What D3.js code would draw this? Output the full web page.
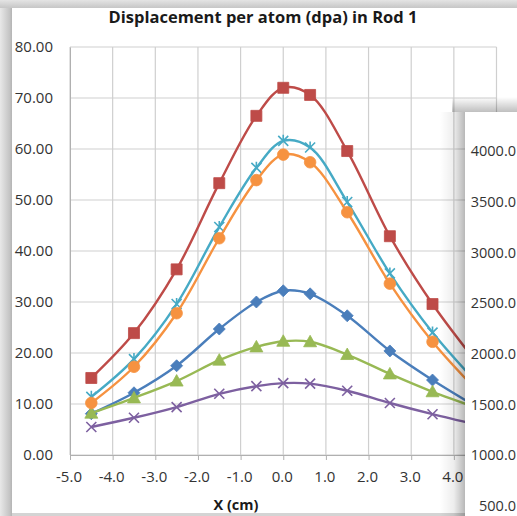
<!DOCTYPE html>
<html><head><meta charset="utf-8">
<script src="https://cdn.jsdelivr.net/npm/d3@7"></script>
<style>html,body{margin:0;padding:0;background:#fff;}svg{display:block;}</style>
</head><body>
<script>
// ---- data ----
const title = "Displacement per atom (dpa) in Rod 1";
const xTitle = "X (cm)";
const xPositions = [-4.5, -3.5, -2.5, -1.5, -0.63, 0, 0.63, 1.5, 2.5, 3.5, 4.5];
const seriesBlue   = [8.1, 12.2, 17.5, 24.7, 30.0, 32.2, 31.6, 27.3, 20.4, 14.7, 9.6];
const seriesRed    = [15.1, 23.9, 36.4, 53.3, 66.5, 72.0, 70.6, 59.6, 42.9, 29.6, 18.5];
const seriesGreen  = [8.2, 11.2, 14.5, 18.6, 21.2, 22.3, 22.2, 19.7, 15.9, 12.4, 9.4];
const seriesPurple = [5.5, 7.3, 9.4, 12.0, 13.5, 14.1, 14.0, 12.6, 10.2, 8.0, 6.0];
const seriesCyan   = [11.4, 18.8, 29.6, 44.7, 56.3, 61.6, 60.3, 49.6, 35.6, 24.0, 14.5];
const seriesOrange = [10.2, 17.3, 27.8, 42.5, 53.9, 58.9, 57.4, 47.6, 33.6, 22.2, 13.0];
const xTicks = [-5, -4, -3, -2, -1, 0, 1, 2, 3, 4, 5];
const yTicks = [0, 10, 20, 30, 40, 50, 60, 70, 80];
const overlayTicks = [500, 1000, 1500, 2000, 2500, 3000, 3500, 4000];

const series = [
  {values: seriesBlue,   color: "#4A7EBB", marker: "diamond"},
  {values: seriesRed,    color: "#BE4B48", marker: "square"},
  {values: seriesGreen,  color: "#98B954", marker: "triangle"},
  {values: seriesPurple, color: "#7D60A0", marker: "x"},
  {values: seriesCyan,   color: "#46AAC5", marker: "star"},
  {values: seriesOrange, color: "#F69240", marker: "circle"}
];

const W = 517, H = 516;
const FONT = "'Open Sans', 'Liberation Sans', sans-serif";
const svg = d3.select("body").append("svg").attr("width", W).attr("height", H);
const defs = svg.append("defs");
function grad(id, x1, y1, x2, y2, stops) {
  const g = defs.append("linearGradient").attr("id", id)
    .attr("x1", x1).attr("y1", y1).attr("x2", x2).attr("y2", y2);
  stops.forEach(s => g.append("stop").attr("offset", s[0]).attr("stop-color", s[1]).attr("stop-opacity", s[2]));
}
grad("gLeft", 0, 0, 1, 0, [[0, "#e8e8e8", 1], [0.8, "#c4c4c4", 1], [1, "#b4b4b4", 1]]);
grad("gTop", 0, 0, 0, 1, [[0, "#e4e4e4", 1], [1, "#c6c6c6", 1]]);
grad("gShadowL", 0, 0, 1, 0, [[0, "#000", 0], [0.55, "#000", 0.07], [1, "#000", 0.28]]);
grad("gShadowT", 0, 0, 0, 1, [[0, "#000", 0], [1, "#000", 0.25]]);

// frame background
svg.append("rect").attr("width", W).attr("height", H).attr("fill", "#d4d4d4");
svg.append("rect").attr("x", 0).attr("y", 0).attr("width", 12).attr("height", H).attr("fill", "url(#gLeft)");
svg.append("rect").attr("x", 0).attr("y", 0).attr("width", W).attr("height", 8).attr("fill", "url(#gTop)");
svg.append("rect").attr("x", 12).attr("y", 8).attr("width", W - 12).attr("height", 505).attr("fill", "#fff");

const x = d3.scaleLinear().domain([-5, 5]).range([70, 496.5]);
const y = d3.scaleLinear().domain([0, 80]).range([455, 47]);

// gridlines
const grid = svg.append("g");
grid.selectAll("line.h").data(yTicks).join("line")
  .attr("x1", x(-5)).attr("x2", x(5)).attr("y1", d => y(d)).attr("y2", d => y(d))
  .attr("stroke", "#cfcfcf").attr("stroke-width", 1.2);
grid.selectAll("line.v").data(xTicks).join("line")
  .attr("x1", d => x(d)).attr("x2", d => x(d)).attr("y1", y(80)).attr("y2", y(0))
  .attr("stroke", "#cfcfcf").attr("stroke-width", 1.2);

// axes
const xAxis = svg.append("g").attr("transform", `translate(0,${y(0)})`)
  .call(d3.axisBottom(x).tickValues(xTicks).tickFormat(d => d.toFixed(1)).tickSize(5).tickPadding(11));
xAxis.select(".domain").attr("stroke", "#b0b0b0");
xAxis.selectAll(".tick line").attr("stroke", "#b0b0b0");
xAxis.selectAll("text").attr("font-family", FONT).attr("font-size", 15).attr("fill", "#333");
xAxis.selectAll(".tick text").attr("dx", -1.5);

const yAxis = svg.append("g").attr("transform", `translate(${x(-5)},0)`)
  .call(d3.axisLeft(y).tickValues(yTicks).tickFormat(d => d.toFixed(2)).tickSize(0).tickPadding(17));
yAxis.select(".domain").attr("stroke", "#b0b0b0");
yAxis.selectAll("text").attr("font-family", FONT).attr("font-size", 15).attr("fill", "#333");

// title
svg.append("text").attr("x", 263).attr("y", 23).attr("text-anchor", "middle")
  .attr("font-family", FONT).attr("font-weight", "bold").attr("font-size", 16.5).attr("fill", "#1a1a1a")
  .text(title);
svg.append("text").attr("x", 236).attr("y", 510).attr("text-anchor", "middle")
  .attr("font-family", FONT).attr("font-weight", "bold").attr("font-size", 14.5).attr("fill", "#1a1a1a")
  .text(xTitle);

// series
const line = d3.line().curve(d3.curveCatmullRom.alpha(0.5))
  .x(d => x(d[0])).y(d => y(d[1]));

function markerPath(type) {
  const p = d3.path();
  if (type === "square") { p.rect(-5.5, -5.5, 11, 11); }
  else if (type === "diamond") { p.moveTo(0, -6); p.lineTo(6, 0); p.lineTo(0, 6); p.lineTo(-6, 0); p.closePath(); }
  else if (type === "triangle") { p.moveTo(0, -6.5); p.lineTo(6.5, 5); p.lineTo(-6.5, 5); p.closePath(); }
  else if (type === "circle") { p.arc(0, 0, 5.8, 0, 2 * Math.PI); }
  else if (type === "x") { p.moveTo(-5, -5); p.lineTo(5, 5); p.moveTo(5, -5); p.lineTo(-5, 5); }
  else if (type === "star") { p.moveTo(-5, -5); p.lineTo(5, 5); p.moveTo(5, -5); p.lineTo(-5, 5); p.moveTo(0, -6); p.lineTo(0, 0); }
  return p.toString();
}

series.forEach(s => {
  const pts = xPositions.map((xv, i) => [xv, s.values[i]]);
  const g = svg.append("g");
  g.append("path").attr("d", line(pts)).attr("fill", "none")
    .attr("stroke", s.color).attr("stroke-width", 2.4).attr("stroke-linejoin", "round");
  const stroked = (s.marker === "x" || s.marker === "star");
  g.selectAll("path.m").data(pts).join("path")
    .attr("transform", d => `translate(${x(d[0])},${y(d[1])})`)
    .attr("d", markerPath(s.marker))
    .attr("fill", stroked ? "none" : s.color)
    .attr("stroke", s.color)
    .attr("stroke-width", stroked ? 1.6 : 0.8);
});

// overlapping second chart window
const ovX = 465, ovY = 112;
svg.append("rect").attr("x", 440).attr("y", ovY).attr("width", ovX - 440).attr("height", H - ovY).attr("fill", "url(#gShadowL)");
svg.append("rect").attr("x", 452).attr("y", 97).attr("width", W - 452).attr("height", ovY - 97).attr("fill", "url(#gShadowT)");
svg.append("rect").attr("x", ovX).attr("y", ovY).attr("width", W - ovX).attr("height", H - ovY).attr("fill", "#fff");

const y2 = d3.scaleLinear().domain([500, 4000]).range([506, 151]);
const ov = svg.append("g").attr("transform", "translate(516,0)")
  .call(d3.axisLeft(y2).tickValues(overlayTicks).tickFormat(d => d.toFixed(1)).tickSize(0).tickPadding(0));
ov.select(".domain").remove();
ov.selectAll("text").attr("font-family", FONT).attr("font-size", 14.5).attr("fill", "#333");
</script>
</body></html>
